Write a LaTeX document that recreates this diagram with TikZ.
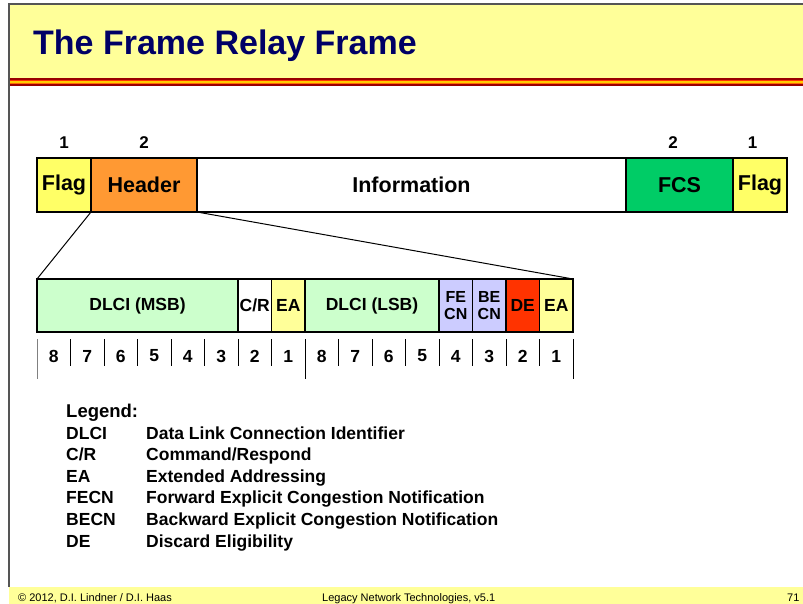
\documentclass[tikz,border=0pt]{standalone}
\usepackage{fontspec}
\setmainfont{Liberation Sans}
\definecolor{titleyellow}{HTML}{FFFF99}
\definecolor{titlenavy}{HTML}{000066}
\definecolor{flagyellow}{HTML}{FFFF66}
\definecolor{headerorange}{HTML}{FF9933}
\definecolor{fcsgreen}{HTML}{00CC66}
\definecolor{dlcigreen}{HTML}{CCFFCC}
\definecolor{eayellow}{HTML}{FFFF99}
\definecolor{fecnblue}{HTML}{CCCCFF}
\definecolor{dered}{HTML}{FF3300}
\definecolor{stripedark}{HTML}{990000}
\definecolor{stripered}{HTML}{FF3300}
\definecolor{stripegold}{HTML}{FFCC00}
\definecolor{stripeorange}{HTML}{FF6600}
\definecolor{slideborder}{HTML}{555555}
\begin{document}
\begin{tikzpicture}[x=1pt,y=-1pt,
  fieldbox/.style={draw=black, line width=1.2pt, inner sep=0pt, outer sep=0pt,
    font=\fontsize{21.5}{24}\selectfont\bfseries},
  lowbox/.style={draw=black, line width=1.2pt, inner sep=0pt, outer sep=0pt,
    minimum height=53, font=\fontsize{17.5}{19}\selectfont\bfseries},
  numlbl/.style={inner sep=0pt, font=\fontsize{17}{19}\selectfont\bfseries},
  bitlbl/.style={inner sep=0pt, font=\fontsize{17.5}{19}\selectfont\bfseries},
  legtxt/.style={anchor=base west, inner sep=0pt, font=\fontsize{17.5}{19}\selectfont\bfseries},
  foottxt/.style={anchor=base west, inner sep=0pt, font=\fontsize{11}{12}\selectfont},
  tick/.style={line width=1pt, draw=black},
  zoomline/.style={line width=1pt, draw=black}
]
\useasboundingbox (0,0) rectangle (803,604);
\fill[white] (0,0) rectangle (803,604);
% title band
\fill[titleyellow] (9,4) rectangle (803,78);
\fill[stripedark] (9,78) rectangle (803,79.7);
\fill[stripered] (9,79.7) rectangle (803,81.2);
\fill[stripegold] (9,81.2) rectangle (803,83);
\fill[stripeorange] (9,83) rectangle (803,84.5);
\fill[stripedark] (9,84.5) rectangle (803,86);
% footer band
\fill[titleyellow] (9,587) rectangle (803,604);
% slide border
\draw[slideborder, line width=2pt] (9,587) -- (9,4) -- (803,4);
% title
\node[anchor=base west, inner sep=0pt, text=titlenavy,
  font=\fontsize{34}{38}\selectfont\bfseries] (title) at (33,55) {The Frame Relay Frame};

% frame row
\node[fieldbox, fill=flagyellow, minimum width=54, minimum height=54] (flagA) at (64,185) {Flag};
\node[fieldbox, fill=headerorange, minimum width=106, minimum height=54] (header) at (144,185) {Header};
\node[fieldbox, fill=white, minimum width=429, minimum height=54] (info) at (411.5,185) {Information};
\node[fieldbox, fill=fcsgreen, minimum width=107, minimum height=54] (fcs) at (679.5,185) {FCS};
\node[fieldbox, fill=flagyellow, minimum width=54, minimum height=54] (flagB) at (760,185) {Flag};
% octet counts
\node[numlbl] (nA) at (64,143) {1};
\node[numlbl] (nB) at (144,143) {2};
\node[numlbl] (nC) at (673,143) {2};
\node[numlbl] (nD) at (752.5,143) {1};

% header expansion row
\node[lowbox, fill=dlcigreen, minimum width=201] (msb) at (137.5,305.5) {DLCI (MSB)};
\node[lowbox, fill=white, minimum width=33.5] (cr) at (254.75,305.5) {C/R};
\node[lowbox, fill=eayellow, minimum width=33.5] (eaA) at (288.25,305.5) {EA};
\node[lowbox, fill=dlcigreen, minimum width=134] (lsb) at (372,305.5) {DLCI (LSB)};
\node[lowbox, fill=fecnblue, minimum width=33.5, align=center,
  font=\fontsize{16}{17}\selectfont\bfseries] (fecn) at (455.75,305.5) {FE\\CN};
\node[lowbox, fill=fecnblue, minimum width=33.5, align=center,
  font=\fontsize{16}{17}\selectfont\bfseries] (becn) at (489.25,305.5) {BE\\CN};
\node[lowbox, fill=dered, minimum width=33.5] (de) at (522.75,305.5) {DE};
\node[lowbox, fill=eayellow, minimum width=33.5] (eaB) at (556.25,305.5) {EA};

% zoom lines
\draw[zoomline] (header.south west) -- (msb.north west);
\draw[zoomline] (header.south east) -- (eaB.north east);

% bit ticks and numbers
\foreach \k in {1,...,7,9,10,...,15} {
  \draw[tick] ({37+\k*33.5},339) -- ({37+\k*33.5},366);
}
\draw[tick, draw=gray] (37,339) -- (37,379);
\draw[tick] (305,339) -- (305,379);
\draw[tick] (573,339) -- (573,379);
\foreach \k/\v in {0/8,1/7,2/6,3/5,4/4,5/3,6/2,7/1,8/8,9/7,10/6,11/5,12/4,13/3,14/2,15/1} {
  \node[bitlbl] (bit\k) at ({37+(\k+0.5)*33.5},356) {\v};
}

% legend
\node[legtxt, font=\fontsize{18.5}{20}\selectfont\bfseries] (leg) at (66,417) {Legend:};
\node[legtxt] (l1a) at (66,439) {DLCI};
\node[legtxt] (l1b) at (146,439) {Data Link Connection Identifier};
\node[legtxt] (l2a) at (66,460.6) {C/R};
\node[legtxt] (l2b) at (146,460.6) {Command/Respond};
\node[legtxt] (l3a) at (66,482.2) {EA};
\node[legtxt] (l3b) at (146,482.2) {Extended Addressing};
\node[legtxt] (l4a) at (66,503.8) {FECN};
\node[legtxt] (l4b) at (146,503.8) {Forward Explicit Congestion Notification};
\node[legtxt] (l5a) at (66,525.4) {BECN};
\node[legtxt] (l5b) at (146,525.4) {Backward Explicit Congestion Notification};
\node[legtxt] (l6a) at (66,547) {DE};
\node[legtxt] (l6b) at (146,547) {Discard Eligibility};

% footer
\node[foottxt] (f1) at (18,601) {© 2012, D.I. Lindner / D.I. Haas};
\node[foottxt] (f2) at (322,601) {Legacy Network Technologies, v5.1};
\node[foottxt] (f3) at (787,601) {71};
\end{tikzpicture}
\end{document}
